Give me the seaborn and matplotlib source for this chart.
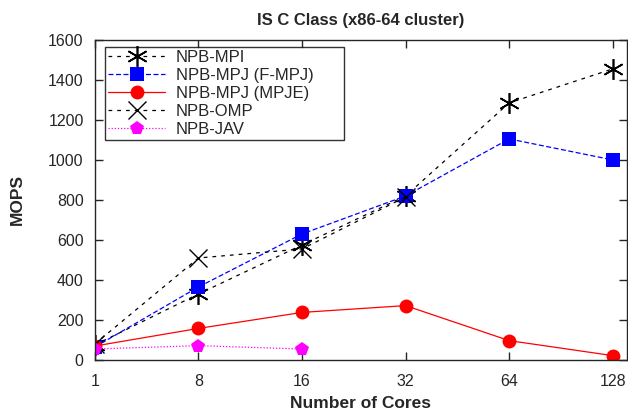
import matplotlib
matplotlib.use("Agg")
import matplotlib.pyplot as plt
import seaborn as sns
import pandas as pd
import numpy as np

cores = ["1", "8", "16", "32", "64", "128"]
npb_mpi = [75, 330, 575, 820, 1285, 1455]
npb_fmpj = [65, 365, 630, 820, 1105, 1000]
npb_mpje = [70, 158, 238, 272, 97, 22]
npb_omp = [80, 510, 555, 815]
npb_jav = [55, 72, 55]

series = [
    ("NPB-MPI", npb_mpi, dict(color="black", linestyle=(0, (3, 4)), marker=(6, 2, 0), markersize=15, mew=1.2)),
    ("NPB-MPJ (F-MPJ)", npb_fmpj, dict(color="blue", linestyle=(0, (4, 2)), marker="s", markersize=10, mew=0)),
    ("NPB-MPJ (MPJE)", npb_mpje, dict(color="red", linestyle="-", marker="o", markersize=10, mew=0)),
    ("NPB-OMP", npb_omp, dict(color="black", linestyle=(0, (3, 4)), marker="x", markersize=13, mew=1.0)),
    ("NPB-JAV", npb_jav, dict(color="magenta", linestyle=(0, (1, 1.5)), marker="p", markersize=10, mew=0)),
]

sns.set_style("ticks")
plt.rcParams["font.family"] = ["Liberation Sans", "DejaVu Sans"]

fig = plt.figure(figsize=(6.28, 4.11), dpi=100)
ax = fig.add_axes([0.151, 0.124, 0.847, 0.779])

for name, vals, st in series:
    df = pd.DataFrame({"x": np.arange(len(vals)), "y": vals})
    sns.lineplot(data=df, x="x", y="y", ax=ax, label=name, linewidth=0.9,
                 color=st["color"], linestyle=st["linestyle"], marker=st["marker"],
                 markersize=st["markersize"], markeredgewidth=st["mew"],
                 markeredgecolor=st["color"])

ax.set_xlim(0, 5.135)
ax.set_ylim(0, 1600)
ax.set_xticks(range(len(cores)))
ax.set_xticklabels(cores)
ax.set_yticks(range(0, 1601, 200))
ax.tick_params(direction="in", top=True, right=True, labelsize=11.5, length=6, width=1)
ax.tick_params(axis="x", pad=10)
ax.tick_params(axis="y", pad=8)
for s in ax.spines.values():
    s.set_linewidth(1.0)
ax.set_xlabel("Number of Cores", fontsize=12.5, fontweight="bold", labelpad=5)
ax.set_ylabel("MOPS", fontsize=12.5, fontweight="bold", labelpad=17)
ax.set_title("IS C Class (x86-64 cluster)", fontsize=12, fontweight="bold", pad=11)

leg = ax.legend(loc="upper left", bbox_to_anchor=(0.019, 0.0, 0.449, 0.978), mode="expand",
                fontsize=12, frameon=True, fancybox=False, edgecolor="black",
                handlelength=3.4, handletextpad=0.65, borderpad=0.2, labelspacing=0.17,
                borderaxespad=0)
leg.get_frame().set_linewidth(1.0)

fig.savefig("out.png", dpi=100)
